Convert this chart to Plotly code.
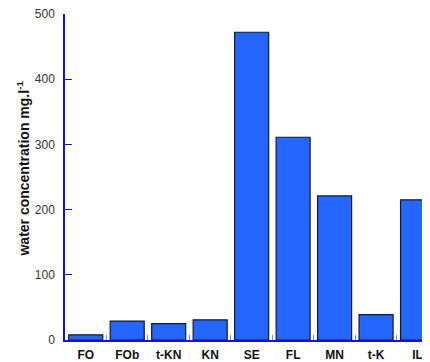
import plotly.graph_objects as go

sites = ["FO", "FOb", "t-KN", "KN", "SE", "FL", "MN", "t-K", "IL"]
water_conc = [8, 29, 25, 31, 472, 311, 221, 39, 215]

fig = go.Figure(go.Bar(
    x=sites,
    y=water_conc,
    width=0.82,
    marker=dict(color="#2466ff", line=dict(color="#1a1a1a", width=1.2)),
))

# page body has an 8px margin, so the figure is a little smaller than the window
fig.update_layout(
    width=422, height=354,
    margin=dict(l=57, r=0, t=6, b=22),
    plot_bgcolor="white", paper_bgcolor="white",
    font=dict(family="Liberation Sans, Arial, sans-serif", size=12, color="#222222"),
    showlegend=False,
)
fig.update_xaxes(
    range=[-0.5, 8.3],
    showline=True, linecolor="#1010ee", linewidth=1.5,
    ticks="inside", tickson="boundaries", ticklen=5, tickcolor="#8080ff",
    tickfont=dict(size=12, color="#111111", weight="bold"),
    ticklabelstandoff=3,
    showgrid=False,
)
fig.update_yaxes(
    range=[0, 500], dtick=100,
    showline=True, linecolor="#1010ee", linewidth=1.5,
    ticks="inside", ticklen=7, tickcolor="#1010ee",
    tickfont=dict(size=12, color="#333333"),
    ticklabelstandoff=6, ticklabeloverflow="allow",
    showgrid=False, zeroline=False,
)

# y title as a rotated annotation, sitting a bit above the axis middle like the original
fig.add_annotation(
    text="water concentration mg.l<sup>-1</sup>",
    xref="paper", yref="paper", x=-0.115, y=0.526,
    xanchor="center", yanchor="middle", textangle=-90,
    showarrow=False,
    font=dict(size=14, color="#111111", weight="bold"),
)

fig.write_html("out.html")
